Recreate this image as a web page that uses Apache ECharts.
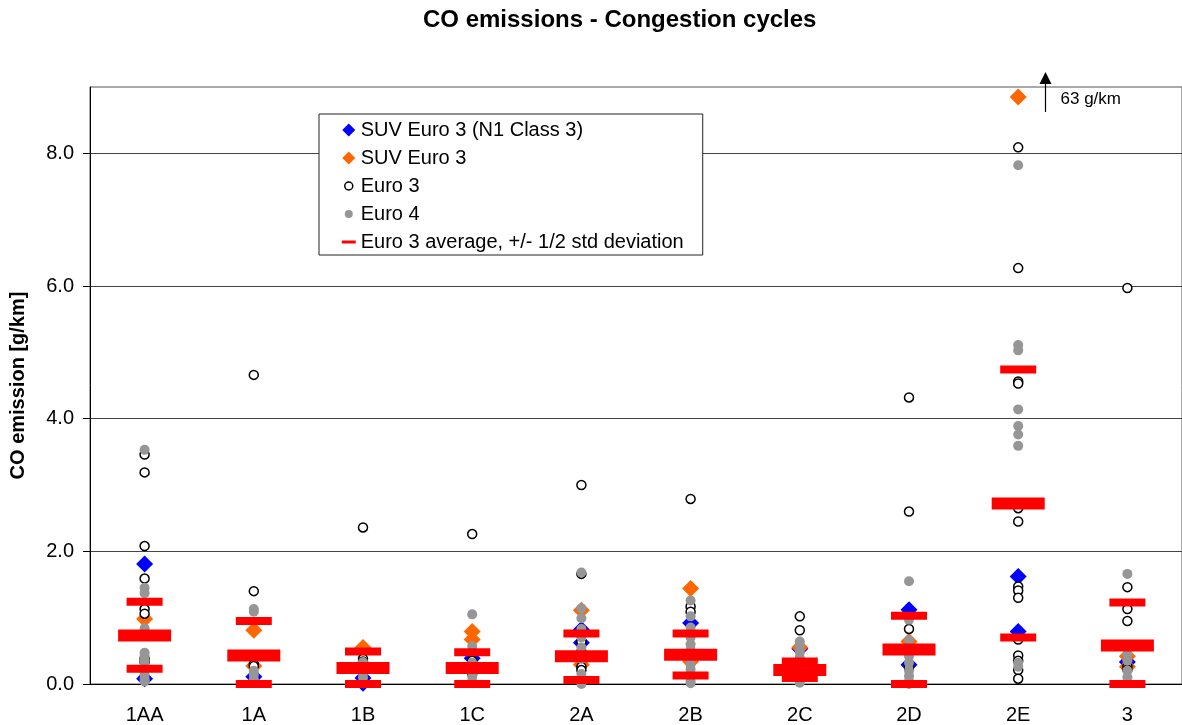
<!DOCTYPE html>
<html>
<head>
<meta charset="utf-8">
<script src="https://cdn.jsdelivr.net/npm/echarts@6/dist/echarts.min.js"></script>
<style>
  html, body { margin: 0; padding: 0; background: #fff; }
  #chart { width: 1182px; height: 725px; }
</style>
</head>
<body>
<div id="chart"></div>
<script>
// Driving cycles on the x axis
const categories = ['1AA', '1A', '1B', '1C', '2A', '2B', '2C', '2D', '2E', '3'];

// CO emission values [g/km], one list per cycle
const suvN1 = [
  [1.81, 0.08], [0.11], [0.09, 0.01], [0.39], [0.82, 0.62],
  [0.92], [0.53], [1.12, 0.29], [1.62, 0.79], [0.33]
];
const suvEuro3 = [
  [0.98], [0.81, 0.27], [0.55], [0.79, 0.67], [1.11, 0.29],
  [1.44, 0.34], [0.55], [0.64], [8.85], [0.42, 0.26]
];
const euro3 = [
  [3.46, 3.19, 2.08, 1.59, 1.13, 1.06, 0.38, 0.33],
  [4.66, 1.40, 0.30, 0.27],
  [2.36, 0.38, 0.34],
  [2.26, 0.35, 0.15],
  [3.00, 1.66, 0.64, 0.49, 0.26, 0.21],
  [2.79, 1.17, 1.09],
  [1.02, 0.81],
  [4.32, 2.60, 0.83, 0.29, 0.25],
  [8.09, 6.27, 4.56, 4.53, 2.65, 2.45, 1.47, 1.41, 1.30, 0.67, 0.43, 0.35, 0.21, 0.08],
  [5.97, 1.46, 1.13, 0.95, 0.27, 0.22]
];
const euro4 = [
  [3.53, 1.45, 1.37, 0.84, 0.47, 0.42, 0.35, 0.28, 0.21, 0.14, 0.08, 0.04],
  [1.13, 1.09, 0.20, 0.14, 0.07, 0.02],
  [0.33, 0.25, 0.17, 0.10, 0.03],
  [1.05, 0.57, 0.32, 0.20, 0.12, 0.05, 0.01],
  [1.68, 1.14, 0.99, 0.83, 0.70, 0.55, 0.38, 0.15, 0.05, 0.00],
  [1.26, 1.02, 0.85, 0.70, 0.60, 0.52, 0.40, 0.30, 0.22, 0.12, 0.05, 0.01],
  [0.64, 0.58, 0.48, 0.40, 0.30, 0.20, 0.10, 0.02],
  [1.55, 0.97, 0.66, 0.55, 0.42, 0.32, 0.20, 0.12, 0.05, 0.00],
  [7.82, 5.11, 5.03, 4.14, 3.89, 3.76, 3.59, 0.32, 0.26],
  [1.66, 0.45, 0.35, 0.20, 0.10, 0.02]
];

// Euro 3 average and the +/- 1/2 std deviation marks
const euro3Avg   = [0.73, 0.43, 0.24, 0.24, 0.42, 0.44, 0.21, 0.52, 2.72, 0.58];
const euro3Upper = [1.24, 0.95, 0.49, 0.48, 0.76, 0.76, 0.34, 1.03, 4.74, 1.23];
const euro3Lower = [0.23, 0.00, 0.00, 0.00, 0.06, 0.13, 0.09, 0.00, 0.70, 0.00];

// Off-scale value noted above the 2E column
const offScale = { category: '2E', value: 63, shownAt: 8.85 };

const yTicks = [0, 2, 4, 6, 8];

const names = {
  suvN1: 'SUV Euro 3 (N1 Class 3)',
  suv: 'SUV Euro 3',
  e3: 'Euro 3',
  e4: 'Euro 4',
  avg: 'Euro 3 average, +/- 1/2 std deviation'
};

const FONT = '"Liberation Sans", Arial, sans-serif';

function pairs(lists) {
  const out = [];
  lists.forEach((vals, i) => vals.forEach(v => out.push([categories[i], v])));
  return out;
}

const avgData = [];
categories.forEach((c, i) => {
  avgData.push({ value: [c, euro3Upper[i]], symbolSize: [36, 8] });
  avgData.push({ value: [c, euro3Lower[i]], symbolSize: [36, 8] });
  avgData.push({ value: [c, euro3Avg[i]], symbolSize: [53, 12] });
});

// Legend icons: invisible move-tos keep every icon in a 14x14 box
const ICON_DIAMOND = 'path://M0,0M14,14M7,0.5L13.5,7L7,13.5L0.5,7Z';
const ICON_CIRCLE = 'path://M0,0M14,14M3,7A4,4,0,1,0,11,7A4,4,0,1,0,3,7Z';
const ICON_DASH = 'path://M0,0M14,14M0,5.5L14,5.5L14,8.5L0,8.5Z';

const chart = echarts.init(document.getElementById('chart'), null, { renderer: 'canvas' });

chart.setOption({
  animation: false,
  backgroundColor: '#fff',
  textStyle: { fontFamily: FONT },
  title: {
    text: 'CO emissions - Congestion cycles',
    left: 423,
    top: 8,
    padding: 0,
    textStyle: { fontFamily: FONT, fontSize: 24, fontWeight: 'bold', color: '#000' }
  },
  grid: {
    left: 86, top: 87, width: 1104, height: 597, containLabel: false,
    show: true, backgroundColor: 'transparent', borderColor: '#555', borderWidth: 1
  },
  legend: {
    orient: 'vertical',
    left: 319,
    top: 114,
    padding: [6, 19, 3, 22],
    itemWidth: 14,
    itemHeight: 14,
    itemGap: 8,
    backgroundColor: '#fff',
    borderColor: '#222',
    borderWidth: 1,
    selectedMode: false,
    textStyle: { fontFamily: FONT, fontSize: 20, lineHeight: 20, color: '#000' },
    data: [
      { name: names.suvN1, icon: ICON_DIAMOND, itemStyle: { color: '#0000ff', borderWidth: 0, opacity: 1 } },
      { name: names.suv, icon: ICON_DIAMOND, itemStyle: { color: '#ff6600', borderWidth: 0, opacity: 1 } },
      { name: names.e3, icon: ICON_CIRCLE, itemStyle: { color: '#fff', borderColor: '#000', borderWidth: 1.5, opacity: 1 } },
      { name: names.e4, icon: ICON_CIRCLE, itemStyle: { color: '#969696', borderWidth: 0, opacity: 1 } },
      { name: names.avg, icon: ICON_DASH, itemStyle: { color: '#ff0000', borderWidth: 0, opacity: 1 } }
    ]
  },
  xAxis: {
    type: 'category',
    data: categories,
    boundaryGap: true,
    axisLine: { lineStyle: { color: '#000', width: 1 } },
    axisTick: { length: 5, lineStyle: { color: '#000' } },
    axisLabel: { fontFamily: FONT, fontSize: 20, color: '#000', margin: 21 },
    splitLine: { show: false }
  },
  yAxis: {
    type: 'value',
    min: 0,
    max: 9,
    interval: 2,
    name: 'CO emission [g/km]',
    nameLocation: 'middle',
    nameGap: 62,
    nameTextStyle: { fontFamily: FONT, fontSize: 20, fontWeight: 'bold', color: '#000' },
    axisLine: { show: true, lineStyle: { color: '#000', width: 1 } },
    axisTick: { show: true, length: 7, customValues: yTicks, lineStyle: { color: '#000' } },
    axisLabel: {
      fontFamily: FONT, fontSize: 20, color: '#000', margin: 16,
      customValues: yTicks,
      formatter: v => v.toFixed(1)
    },
    splitLine: { show: true, lineStyle: { color: '#444', width: 1 } }
  },
  series: [
    {
      name: names.suvN1, type: 'scatter', symbol: 'diamond', symbolSize: 17,
      itemStyle: { color: '#0000ff', opacity: 1 }, data: pairs(suvN1), emphasis: { disabled: true }
    },
    {
      name: names.suv, type: 'scatter', symbol: 'diamond', symbolSize: 17,
      itemStyle: { color: '#ff6600', opacity: 1 }, data: pairs(suvEuro3), emphasis: { disabled: true }
    },
    {
      name: names.e3, type: 'scatter', symbol: 'circle', symbolSize: 9,
      itemStyle: { color: '#fff', borderColor: '#000', borderWidth: 1.5, opacity: 1 },
      data: pairs(euro3), emphasis: { disabled: true }
    },
    {
      name: names.e4, type: 'scatter', symbol: 'circle', symbolSize: 10,
      itemStyle: { color: '#969696', opacity: 1 }, data: pairs(euro4), emphasis: { disabled: true }
    },
    {
      name: names.avg, type: 'scatter', symbol: 'rect',
      itemStyle: { color: '#ff0000', opacity: 1 }, data: avgData, emphasis: { disabled: true }
    }
  ]
});

// Arrow and note for the value that lies above the axis range
const base = chart.convertToPixel({ xAxisIndex: 0, yAxisIndex: 0 }, [offScale.category, offScale.shownAt]);
const ax = Math.round(base[0] + 27) + 0.5;
const yBottom = base[1] + 15;
chart.setOption({
  graphic: [
    {
      type: 'line', z: 100,
      shape: { x1: ax, y1: yBottom, x2: ax, y2: yBottom - 29 },
      style: { stroke: '#000', lineWidth: 1.2 }
    },
    {
      type: 'polygon', z: 100,
      shape: { points: [[ax, yBottom - 40], [ax - 6, yBottom - 28], [ax + 6, yBottom - 28]] },
      style: { fill: '#000' }
    },
    {
      type: 'text', z: 100,
      x: ax + 15, y: yBottom - 13,
      style: {
        text: offScale.value + ' g/km', fill: '#000',
        font: '17px ' + FONT, verticalAlign: 'middle', align: 'left'
      }
    }
  ]
});
</script>
</body>
</html>
